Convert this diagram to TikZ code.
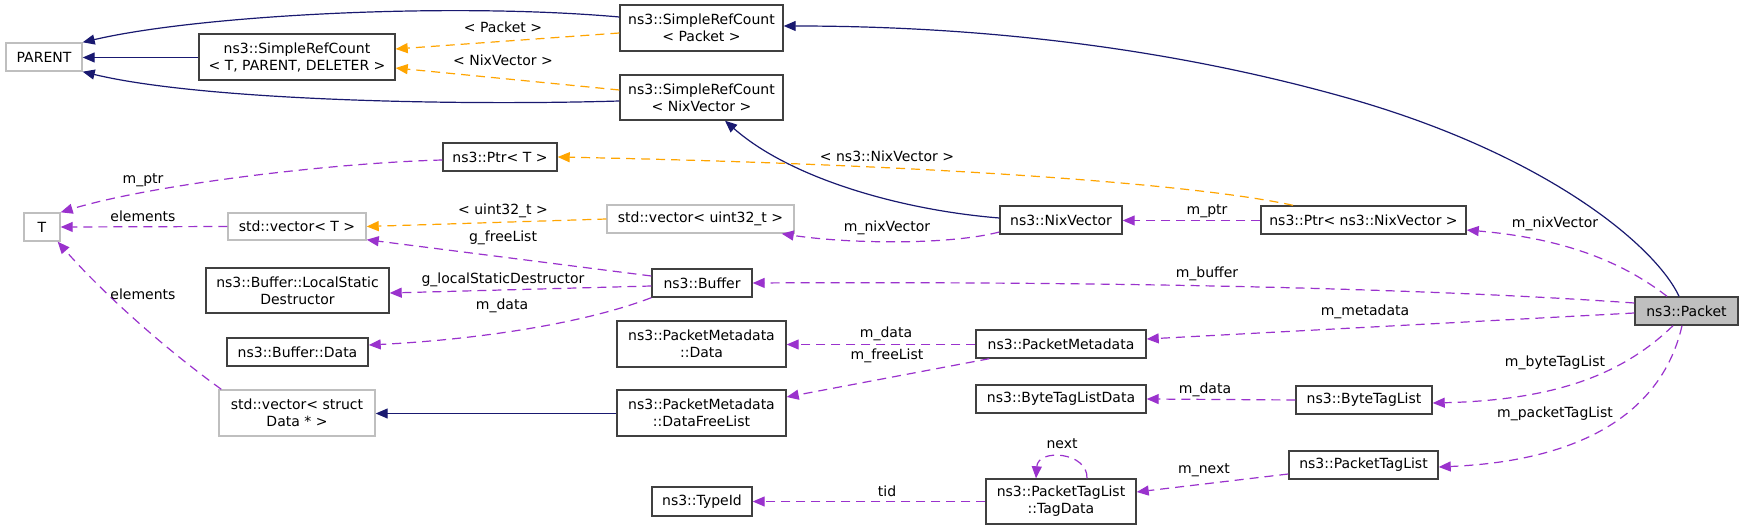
\documentclass[tikz,border=0pt]{standalone}
\usepackage{fontspec}
\setmainfont{DejaVu Sans}
\usetikzlibrary{arrows.meta}
\definecolor{navy}{HTML}{191970}
\definecolor{orng}{HTML}{FFA500}
\definecolor{purp}{HTML}{9A32CD}
\definecolor{gbord}{HTML}{BFBFBF}
\definecolor{bord}{HTML}{404040}
\begin{document}
\begin{tikzpicture}[x=0.5pt,y=-0.5pt,
  box/.style={draw=bord, line width=0.7pt, fill=white, font=\fontsize{7}{8.5}\selectfont, align=center, inner sep=0pt, minimum height=14pt},
  gbox/.style={box, draw=gbord},
  lbl/.style={font=\fontsize{7}{8.5}\selectfont, inner sep=0pt},
  tipst/.style={-{Triangle[length=6pt,width=5pt]}},
  inh/.style={draw=navy, line width=0.6pt, tipst},
  tmpl/.style={draw=orng, line width=0.6pt, dash pattern=on 4.5pt off 3pt, tipst},
  usg/.style={draw=purp, line width=0.6pt, dash pattern=on 4.5pt off 3pt, tipst}
]
\fill[white] (0,0) rectangle (1744,529);
\useasboundingbox (0,0) rectangle (1744,529);

% nodes
\node[gbox, minimum width=38pt] (PARENT) at (44,57) {PARENT};
\node[box, minimum width=98pt, minimum height=23pt] (SRCT) at (297,57) {ns3::SimpleRefCount\\< T, PARENT, DELETER >};
\node[box, minimum width=81.5pt, minimum height=23pt] (SRCP) at (701.5,28) {ns3::SimpleRefCount\\< Packet >};
\node[box, minimum width=81.5pt, minimum height=22.5pt] (SRCN) at (701.5,97.5) {ns3::SimpleRefCount\\< NixVector >};
\node[box, minimum width=57pt] (PtrT) at (500,157) {ns3::Ptr< T >};
\node[gbox, minimum width=18pt] (T) at (42,227) {T};
\node[gbox, minimum width=69pt, minimum height=13.5pt] (VecT) at (297,226.5) {std::vector< T >};
\node[gbox, minimum width=93.5pt] (VecU) at (700.5,219) {std::vector< uint32\_t >};
\node[box, minimum width=61pt] (NixV) at (1061,220) {ns3::NixVector};
\node[box, minimum width=102.5pt] (PtrN) at (1363.5,220) {ns3::Ptr< ns3::NixVector >};
\node[box, minimum width=50pt] (Buf) at (702,283) {ns3::Buffer};
\node[box, minimum width=91.5pt, minimum height=22.5pt] (LSD) at (297.5,290.5) {ns3::Buffer::LocalStatic\\Destructor};
\node[box, minimum width=70.5pt] (BufD) at (297.5,352) {ns3::Buffer::Data};
\node[box, minimum width=84.5pt, minimum height=23pt] (PMD) at (701.5,344) {ns3::PacketMetadata\\::Data};
\node[box, minimum width=85pt] (PM) at (1061,344) {ns3::PacketMetadata};
\node[box, minimum width=84.5pt, minimum height=23pt] (DFL) at (701.5,413) {ns3::PacketMetadata\\::DataFreeList};
\node[gbox, minimum width=78pt, minimum height=23pt] (VecS) at (297,413) {std::vector< struct\\Data * >};
\node[box, minimum width=85pt] (BTLD) at (1061,399) {ns3::ByteTagListData};
\node[box, minimum width=68pt] (BTL) at (1364,400) {ns3::ByteTagList};
\node[box, fill=gbord, minimum width=51.5pt] (Pkt) at (1686.5,311) {ns3::Packet};
\node[box, minimum width=74.5pt] (PTL) at (1363.5,465) {ns3::PacketTagList};
\node[box, minimum width=75pt, minimum height=22.5pt] (TagD) at (1061,501.5) {ns3::PacketTagList\\::TagData};
\node[box, minimum width=50pt, minimum height=14.5pt] (TId) at (702,501.5) {ns3::TypeId};

% inheritance (navy)
\draw[inh] ([yshift=5.5pt]SRCP.west) .. controls (450,2) and (200,15) .. (PARENT.north east);
\draw[inh] ([yshift=-0.25pt]SRCT.west) -- ([yshift=-0.25pt]PARENT.east);
\draw[inh] ([yshift=-1.75pt]SRCN.west) .. controls (450,106) and (200,100) .. (PARENT.south east);
\draw[inh] ([xshift=-3.75pt]Pkt.north) .. controls (1655,245) and (1544,153) .. (1344,97)
   .. controls (1144,41) and (950,26) .. ([yshift=1pt]SRCP.east);
\draw[inh] ([yshift=1pt]NixV.west) .. controls (900,210) and (790,178) .. ([xshift=11.75pt]SRCN.south);
\draw[inh] ([yshift=-0.25pt]DFL.west) -- ([yshift=-0.25pt]VecS.east);

% template instances (orange)
\draw[tmpl] ([yshift=-2.5pt]SRCP.west) -- ([yshift=4pt]SRCT.east);
\draw[tmpl] ([yshift=3.75pt]SRCN.west) -- ([yshift=-5.5pt]SRCT.east);
\draw[tmpl] ([xshift=-35.25pt]PtrN.north) .. controls (1200,185) and (950,165) .. (PtrT.east);
\draw[tmpl] (VecU.west) -- (VecT.east);

% usage (purple)
\draw[usg] ([yshift=-1.5pt]PtrT.west) .. controls (330,163) and (150,185) .. (T.north east);
\draw[usg] (VecT.west) -- (T.east);
\draw[usg] ([yshift=3.5pt]Buf.west) -- ([yshift=0.5pt]VecT.south east);
\draw[usg] ([yshift=-1.5pt]Buf.west) -- ([yshift=-1.25pt]LSD.east);
\draw[usg] (Buf.south west) .. controls (580,325) and (470,340) .. ([yshift=3.5pt]BufD.east);
\draw[usg] ([yshift=-6pt]NixV.west) .. controls (950,245) and (850,244) .. ([xshift=-6.5pt]VecU.south east);
\draw[usg] ([yshift=-0.25pt]PtrN.west) -- ([yshift=-0.25pt]NixV.east);
\draw[usg] ([xshift=-9.75pt]Pkt.north) .. controls (1620,260) and (1560,238) .. ([yshift=-5pt]PtrN.east);
\draw[usg] ([yshift=4pt]Pkt.west) .. controls (1450,290) and (1150,281) .. (Buf.east);
\draw[usg] ([yshift=-1pt]Pkt.west) -- ([yshift=2.5pt]PM.east);
\draw[usg] ([yshift=-0.25pt]PM.west) -- ([yshift=-0.25pt]PMD.east);
\draw[usg] ([xshift=7pt]PM.south west) -- ([yshift=8pt]DFL.east);
\draw[usg] ([xshift=1.5pt]VecS.north west) .. controls (160,345) and (100,290) .. ([xshift=-1.5pt]T.south east);
\draw[usg] ([xshift=-6.75pt]Pkt.south) .. controls (1625,372) and (1560,400) .. ([yshift=-1.5pt]BTL.east);
\draw[usg] (BTL.west) -- (BTLD.east);
\draw[usg] ([xshift=-2.25pt]Pkt.south) .. controls (1665,400) and (1600,460) .. ([yshift=-1pt]PTL.east);
\draw[usg] ([yshift=-4.5pt]PTL.west) -- ([yshift=4.75pt]TagD.east);
\draw[usg] ([xshift=13pt]TagD.north) .. controls (1088,452) and (1038,448) .. ([xshift=-12.5pt]TagD.north);
\draw[usg] (TagD.west) -- (TId.east);

% labels
\node[lbl] (l1) at (503,27) {< Packet >};
\node[lbl] (l2) at (503,60) {< NixVector >};
\node[lbl] (l3) at (887,156) {< ns3::NixVector >};
\node[lbl] (l4) at (143,180) {m\_ptr};
\node[lbl] (l5) at (143,216) {elements};
\node[lbl] (l6) at (503,211) {< uint32\_t >};
\node[lbl] (l7) at (503,238) {g\_freeList};
\node[lbl] (l8) at (503,280) {g\_localStaticDestructor};
\node[lbl] (l9) at (502,306) {m\_data};
\node[lbl] (l10) at (143,294) {elements};
\node[lbl] (l11) at (887,228) {m\_nixVector};
\node[lbl] (l12) at (1207,211) {m\_ptr};
\node[lbl] (l13) at (1555,224) {m\_nixVector};
\node[lbl] (l14) at (1207,274) {m\_buffer};
\node[lbl] (l15) at (1365,312) {m\_metadata};
\node[lbl] (l16) at (886,334) {m\_data};
\node[lbl] (l17) at (887,356) {m\_freeList};
\node[lbl] (l18) at (1555,363) {m\_byteTagList};
\node[lbl] (l19) at (1205,390) {m\_data};
\node[lbl] (l20) at (1555,414) {m\_packetTagList};
\node[lbl] (l21) at (1062,444) {next};
\node[lbl] (l22) at (1204,470) {m\_next};
\node[lbl] (l23) at (887,491) {tid};
\end{tikzpicture}
\end{document}
